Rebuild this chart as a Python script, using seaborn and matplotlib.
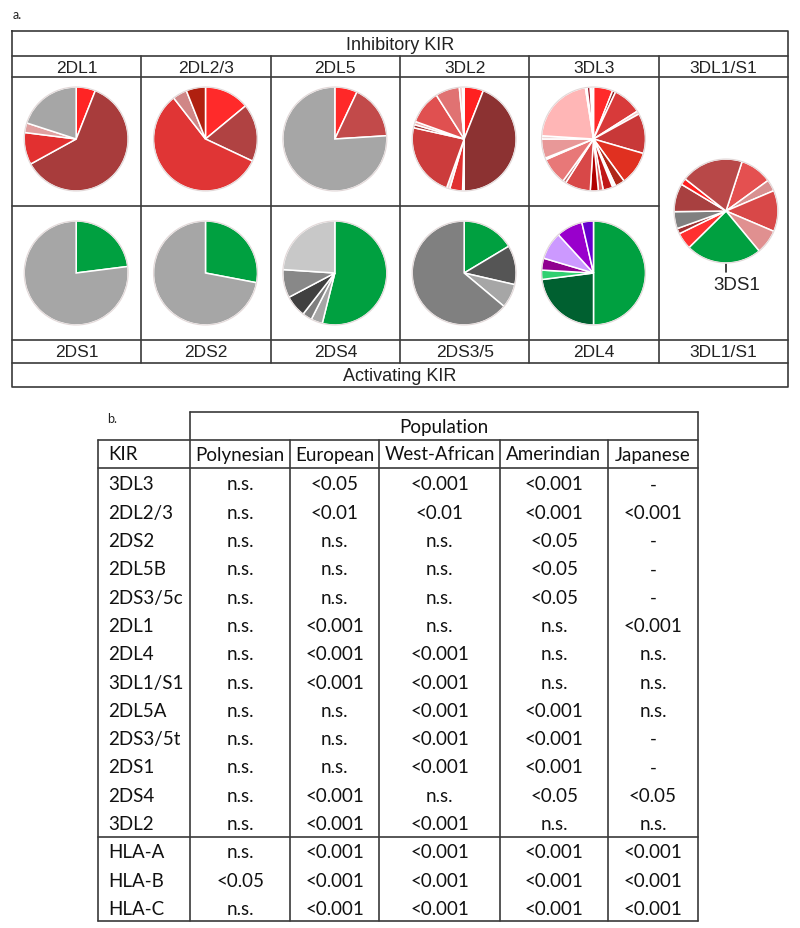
import matplotlib
matplotlib.use("Agg")
import matplotlib.pyplot as plt
from matplotlib.patches import Circle
import seaborn as sns

sns.set_theme(style="white")
plt.rcParams['font.family'] = ['Liberation Sans', 'DejaVu Sans']

W, H = 800, 929

# ---------------- panel a data ----------------
inhib_labels = ["2DL1", "2DL2/3", "2DL5", "3DL2", "3DL3", "3DL1/S1"]
activ_labels = ["2DS1", "2DS2", "2DS4", "2DS3/5", "2DL4", "3DL1/S1"]

v_2dl1 = [6, 61, 10, 3, 20]
c_2dl1 = ["#ff2424", "#a83c3c", "#e23030", "#e0a0a0", "#a6a6a6"]

v_2dl23 = [14, 18, 57.5, 4.5, 6]
c_2dl23 = ["#ff2a2a", "#b04242", "#e03535", "#d08686", "#b02010"]

v_2dl5 = [7, 17, 76]
c_2dl5 = ["#ff2828", "#c24a4a", "#a6a6a6"]

v_3dl2 = [6, 44, 0.5, 4, 1, 23, 1, 1, 10.5, 7.5, 1, 0.5]
c_3dl2 = ["#ff2020", "#8c3232", "#f0c0c0", "#e03030", "#f4d0d0", "#cc3c3c",
          "#a03030", "#f0b0b0", "#e05050", "#e07272", "#f4c4c4", "#a02030"]

v_3dl3 = [6, 1, 9, 1, 12.5, 10.5, 3, 0.5, 0.5, 3, 1.5, 2.5, 8, 1, 8.5, 0.5,
          6, 1, 21.5, 0.5, 1, 0.5, 0.5]
c_3dl3 = ["#ff2a2a", "#8b2020", "#d83a3a", "#f4c8c8", "#c83838", "#e03020",
          "#b02818", "#f4c8c8", "#901818", "#c01818", "#e06060", "#b00000",
          "#d84848", "#c07070", "#e87878", "#f4d0d0", "#e89898", "#f0d8d8",
          "#ffb6b6", "#f4d0d0", "#a02030", "#f4c0c0", "#801818"]

v_3dl1s1 = [10, 3.6, 12.8, 7.6, 23.6, 5.2, 1.7, 5.3, 8.8, 2, 19.4]
c_3dl1s1 = ["#e45050", "#d89090", "#d84848", "#e09090", "#00a040", "#ff3030",
            "#a03030", "#808080", "#a84040", "#ff2020", "#b84848"]

v_2ds1 = [23, 77]
c_2ds1 = ["#00a040", "#a6a6a6"]

v_2ds2 = [28, 72]
c_2ds2 = ["#00a040", "#a6a6a6"]

v_2ds4 = [54, 3.6, 3, 6.8, 8.8, 24]
c_2ds4 = ["#00a040", "#a6a6a6", "#7f7f7f", "#404040", "#888888", "#c8c8c8"]

v_2ds35 = [16.4, 12.2, 7.5, 63.9]
c_2ds35 = ["#00a040", "#555555", "#a6a6a6", "#808080"]

v_2dl4 = [50, 23, 2.9, 3.7, 8.6, 8.2, 3.6]
c_2dl4 = ["#00a040", "#006030", "#30d070", "#900090", "#cc99ff", "#9900cc", "#6600cc"]

# ---------------- panel b data ----------------
populations = ["Polynesian", "European", "West-African", "Amerindian", "Japanese"]
kir_rows = ["3DL3", "2DL2/3", "2DS2", "2DL5B", "2DS3/5c", "2DL1", "2DL4", "3DL1/S1",
            "2DL5A", "2DS3/5t", "2DS1", "2DS4", "3DL2"]
p_polynesian = ["n.s."] * 13
p_european = ["<0.05", "<0.01", "n.s.", "n.s.", "n.s.", "<0.001", "<0.001", "<0.001",
              "n.s.", "n.s.", "n.s.", "<0.001", "<0.001"]
p_westafrican = ["<0.001", "<0.01", "n.s.", "n.s.", "n.s.", "n.s.", "<0.001", "<0.001",
                 "<0.001", "<0.001", "<0.001", "n.s.", "<0.001"]
p_amerindian = ["<0.001", "<0.001", "<0.05", "<0.05", "<0.05", "n.s.", "n.s.", "n.s.",
                "<0.001", "<0.001", "<0.001", "<0.05", "n.s."]
p_japanese = ["-", "<0.001", "-", "-", "-", "<0.001", "n.s.", "n.s.", "n.s.", "-", "-",
              "<0.05", "n.s."]
hla_rows = ["HLA-A", "HLA-B", "HLA-C"]
hla_polynesian = ["n.s.", "<0.05", "n.s."]
hla_european = ["<0.001", "<0.001", "<0.001"]
hla_westafrican = ["<0.001", "<0.001", "<0.001"]
hla_amerindian = ["<0.001", "<0.001", "<0.001"]
hla_japanese = ["<0.001", "<0.001", "<0.001"]

# ---------------- figure ----------------
fig = plt.figure(figsize=(W / 100, H / 100), dpi=100)
fig.patch.set_facecolor("white")
ov = fig.add_axes([0, 0, 1, 1])
ov.set_xlim(0, W)
ov.set_ylim(H, 0)
ov.set_axis_off()

LC = "#3a3a3a"
LW = 1.2
sans = ['Liberation Sans', 'DejaVu Sans']
calib = ['Lato', 'DejaVu Sans']

# panel a grid
xa0, xa1 = 12, 788
col_w = (xa1 - xa0) / 6
xs = [xa0 + i * col_w for i in range(7)]
ov.plot([xa0, xa1, xa1, xa0, xa0], [32, 32, 388, 388, 32], color=LC, lw=LW)
for y in [57, 78, 341, 364]:
    ov.plot([xa0, xa1], [y, y], color=LC, lw=LW)
ov.plot([xa0, xs[5]], [207, 207], color=LC, lw=LW)
for x in xs[1:6]:
    ov.plot([x, x], [57, 364], color=LC, lw=LW)

ov.text(17, 15, "a.", fontsize=9, family=calib, ha="center", va="center", color="#222")
ov.text(400, 45, "Inhibitory KIR", fontsize=13, family=sans, ha="center", va="center", color="#222")
ov.text(400, 376, "Activating KIR", fontsize=13, family=sans, ha="center", va="center", color="#222")
for i, lab in enumerate(inhib_labels):
    ov.text((xs[i] + xs[i + 1]) / 2, 68, lab, fontsize=12.5, family=sans,
            ha="center", va="center", color="#222")
for i, lab in enumerate(activ_labels):
    ov.text((xs[i] + xs[i + 1]) / 2, 352.5, lab, fontsize=12.5, family=sans,
            ha="center", va="center", color="#222")


def draw_pie(cx, cy, values, colors, start=90):
    R = 60
    ax = fig.add_axes([(cx - R) / W, 1 - (cy + R) / H, 2 * R / W, 2 * R / H])
    r = 52 / R
    ax.pie(values, colors=colors, startangle=start, counterclock=False, radius=r,
           wedgeprops=dict(edgecolor="white", linewidth=1.1))
    ax.add_patch(Circle((0, 0), r, fill=False, ec="#e2d8d8", lw=0.8))
    ax.set_xlim(-1, 1)
    ax.set_ylim(-1, 1)
    ax.set_axis_off()
    return ax


cxs = [(xs[i] + xs[i + 1]) / 2 - 0.5 for i in range(6)]
row1, row2 = 140, 274
draw_pie(cxs[0], row1, v_2dl1, c_2dl1)
draw_pie(cxs[1], row1, v_2dl23, c_2dl23)
draw_pie(cxs[2], row1, v_2dl5, c_2dl5)
draw_pie(cxs[3], row1, v_3dl2, c_3dl2)
draw_pie(cxs[4], row1, v_3dl3, c_3dl3)
draw_pie(cxs[0], row2, v_2ds1, c_2ds1)
draw_pie(cxs[1], row2, v_2ds2, c_2ds2)
draw_pie(cxs[2], row2, v_2ds4, c_2ds4)
draw_pie(cxs[3], row2, v_2ds35, c_2ds35)
draw_pie(cxs[4], row2, v_2dl4, c_2dl4)
draw_pie(726, 212, v_3dl1s1, c_3dl1s1, start=72)

ov.plot([726, 726], [262, 273], color="#222", lw=1.2)
ov.text(737, 285, "3DS1", fontsize=13.5, family=sans, ha="center", va="center", color="#222")

# ---------------- panel b table ----------------
tx_left, tx_right = 98, 698
col_edges = [190, 290, 379, 500, 608, 698]
y_top, y_head, y_kir = 413, 441, 469
row0, row_h = 485, 28.3
y_sep = 838
hla0, hla_h = 853, 28.3
y_bot = 922

ov.text(112, 419, "b.", fontsize=9, family=calib, ha="center", va="center", color="#222")
ov.plot([col_edges[0], tx_right], [y_top, y_top], color=LC, lw=LW)
ov.plot([col_edges[0], col_edges[0]], [y_top, y_bot], color=LC, lw=LW)
ov.plot([tx_right, tx_right], [y_top, y_bot], color=LC, lw=LW)
ov.plot([tx_left, tx_left], [y_head, y_bot], color=LC, lw=LW)
for y in [y_head, y_kir, y_sep, y_bot]:
    ov.plot([tx_left, tx_right], [y, y], color=LC, lw=LW)
for x in col_edges[1:-1]:
    ov.plot([x, x], [y_head, y_bot], color=LC, lw=LW)

fs = 13.5
ov.text((col_edges[0] + tx_right) / 2, 427, "Population", fontsize=fs, family=calib,
        ha="center", va="center", color="#111")
ov.text(108, 455, "KIR", fontsize=fs, family=calib, ha="left", va="center", color="#111")
ccs = [(col_edges[i] + col_edges[i + 1]) / 2 for i in range(5)]
for c, p in zip(ccs, populations):
    ov.text(c, 455, p, fontsize=fs, family=calib, ha="center", va="center", color="#111")

kir_cols = [p_polynesian, p_european, p_westafrican, p_amerindian, p_japanese]
for r, name in enumerate(kir_rows):
    y = row0 + r * row_h
    ov.text(108, y, name, fontsize=fs, family=calib, ha="left", va="center", color="#111")
    for c, col in zip(ccs, kir_cols):
        ov.text(c, y, col[r], fontsize=fs, family=calib, ha="center", va="center", color="#111")

hla_cols = [hla_polynesian, hla_european, hla_westafrican, hla_amerindian, hla_japanese]
for r, name in enumerate(hla_rows):
    y = hla0 + r * hla_h
    ov.text(108, y, name, fontsize=fs, family=calib, ha="left", va="center", color="#111")
    for c, col in zip(ccs, hla_cols):
        ov.text(c, y, col[r], fontsize=fs, family=calib, ha="center", va="center", color="#111")

fig.savefig("out.png", dpi=100, facecolor="white")
